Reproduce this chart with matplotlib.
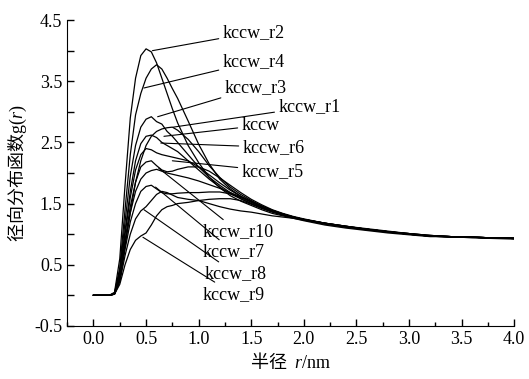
# 径向分布函数 g(r) 曲线

import numpy as np
import matplotlib
matplotlib.use('Agg')
import matplotlib.pyplot as plt
from matplotlib.ticker import MultipleLocator

plt.rcParams['font.family'] = ['Liberation Serif', 'Noto Sans CJK SC']
plt.rcParams['mathtext.fontset'] = 'custom'
plt.rcParams['mathtext.rm'] = 'Liberation Serif'
plt.rcParams['mathtext.it'] = 'Liberation Serif:italic'
plt.rcParams['mathtext.sf'] = 'Noto Sans CJK SC'

# 半径网格 (nm)
r = [0, 0.15, 0.2, 0.25, 0.3, 0.35, 0.4, 0.45, 0.5, 0.55, 0.6, 0.65, 0.7, 0.75,
     0.8, 0.9, 1.0, 1.1, 1.2, 1.3, 1.4, 1.5, 1.6, 1.7, 1.8, 1.9, 2.0, 2.2, 2.4,
     2.6, 2.8, 3.0, 3.2, 3.4, 3.6, 3.8, 4.0]

# 各体系的 g(r)
g_r2 = [0, 0, 0.05, 0.6, 1.8, 2.9, 3.55, 3.92, 4.03, 3.98, 3.8, 3.55, 3.3, 3.05,
        2.82, 2.45, 2.17, 1.93, 1.76, 1.63, 1.54, 1.47, 1.4, 1.34, 1.3, 1.26, 1.22,
        1.15, 1.1, 1.06, 1.02, 0.99, 0.96, 0.96, 0.94, 0.93, 0.92]
g_r4 = [0, 0, 0.04, 0.45, 1.4, 2.3, 2.95, 3.3, 3.55, 3.7, 3.77, 3.7, 3.55, 3.38,
        3.22, 2.85, 2.47, 2.15, 1.9, 1.74, 1.62, 1.53, 1.45, 1.38, 1.33, 1.28, 1.24,
        1.17, 1.12, 1.07, 1.04, 1.0, 0.97, 0.95, 0.95, 0.94, 0.93]
g_r3 = [0, 0, 0.03, 0.4, 1.2, 1.95, 2.45, 2.75, 2.88, 2.92, 2.84, 2.8, 2.68, 2.6,
        2.5, 2.3, 2.1, 1.93, 1.8, 1.68, 1.58, 1.5, 1.43, 1.37, 1.32, 1.28, 1.24,
        1.18, 1.13, 1.09, 1.05, 1.01, 0.98, 0.96, 0.95, 0.94, 0.93]
g_r1 = [0, 0, 0.02, 0.25, 0.8, 1.35, 1.85, 2.2, 2.45, 2.6, 2.68, 2.72, 2.74, 2.75,
        2.7, 2.55, 2.35, 2.12, 1.93, 1.77, 1.65, 1.55, 1.46, 1.39, 1.33, 1.28, 1.24,
        1.18, 1.12, 1.08, 1.04, 1.0, 0.97, 0.95, 0.95, 0.94, 0.94]
g_k = [0, 0, 0.03, 0.35, 1.05, 1.7, 2.2, 2.48, 2.6, 2.62, 2.58, 2.5, 2.45, 2.4,
       2.35, 2.2, 2.05, 1.9, 1.77, 1.66, 1.58, 1.5, 1.43, 1.37, 1.32, 1.28, 1.24,
       1.18, 1.13, 1.08, 1.04, 1.01, 0.98, 0.96, 0.95, 0.94, 0.93]
g_r6 = [0, 0, 0.03, 0.33, 1.0, 1.6, 2.05, 2.3, 2.4, 2.38, 2.33, 2.3, 2.28, 2.26,
        2.24, 2.2, 2.1, 1.97, 1.84, 1.72, 1.62, 1.53, 1.45, 1.39, 1.33, 1.28, 1.24,
        1.18, 1.13, 1.08, 1.04, 1.01, 0.97, 0.96, 0.95, 0.94, 0.93]
g_r5 = [0, 0, 0.03, 0.3, 0.9, 1.45, 1.85, 2.1, 2.18, 2.2, 2.12, 2.05, 2.02, 2.03,
        2.06, 2.1, 2.1, 2.03, 1.92, 1.8, 1.68, 1.57, 1.48, 1.4, 1.34, 1.29, 1.25,
        1.18, 1.13, 1.08, 1.04, 1.01, 0.98, 0.96, 0.95, 0.94, 0.93]
g_r10 = [0, 0, 0.02, 0.28, 0.85, 1.35, 1.7, 1.9, 2.0, 2.04, 2.06, 2.03, 2.0, 1.98,
         1.96, 1.92, 1.87, 1.81, 1.75, 1.68, 1.61, 1.54, 1.46, 1.39, 1.33, 1.28, 1.24,
         1.17, 1.12, 1.08, 1.04, 1.0, 0.97, 0.96, 0.95, 0.94, 0.93]
g_r7 = [0, 0, 0.02, 0.25, 0.75, 1.2, 1.5, 1.7, 1.78, 1.8, 1.74, 1.68, 1.66, 1.66,
        1.67, 1.68, 1.68, 1.69, 1.69, 1.66, 1.6, 1.52, 1.44, 1.38, 1.33, 1.28, 1.24,
        1.17, 1.12, 1.08, 1.04, 1.0, 0.97, 0.96, 0.95, 0.94, 0.93]
g_r8 = [0, 0, 0.02, 0.22, 0.65, 1.0, 1.25, 1.38, 1.45, 1.55, 1.65, 1.7, 1.68, 1.64,
        1.6, 1.57, 1.55, 1.5, 1.45, 1.41, 1.38, 1.36, 1.33, 1.3, 1.28, 1.26, 1.23,
        1.17, 1.12, 1.08, 1.04, 1.0, 0.97, 0.96, 0.95, 0.94, 0.93]
g_r9 = [0, 0, 0.02, 0.18, 0.5, 0.75, 0.9, 0.97, 1.02, 1.15, 1.3, 1.4, 1.45, 1.47,
        1.5, 1.52, 1.55, 1.57, 1.58, 1.58, 1.55, 1.49, 1.42, 1.36, 1.31, 1.27, 1.24,
        1.17, 1.12, 1.08, 1.04, 1.0, 0.97, 0.96, 0.95, 0.94, 0.93]

series = [g_k, g_r1, g_r2, g_r3, g_r4, g_r5, g_r6, g_r7, g_r8, g_r9, g_r10]

# 标签: (文字, 曲线上的点, 文字位置)
labels = [
    ('kccw_r2', (0.56, 4.0), (1.23, 4.3)),
    ('kccw_r4', (0.48, 3.39), (1.23, 3.82)),
    ('kccw_r3', (0.61, 2.92), (1.25, 3.4)),
    ('kccw_r1', (0.76, 2.75), (1.76, 3.08)),
    ('kccw', (0.67, 2.6), (1.41, 2.78)),
    ('kccw_r6', (0.64, 2.49), (1.42, 2.42)),
    ('kccw_r5', (0.75, 2.2), (1.41, 2.03)),
    ('kccw_r10', (0.62, 2.08), (1.04, 1.04)),
    ('kccw_r7', (0.59, 1.77), (1.04, 0.71)),
    ('kccw_r8', (0.48, 1.4), (1.06, 0.35)),
    ('kccw_r9', (0.47, 0.95), (1.04, 0.02)),
]

fig = plt.figure(figsize=(5.29, 3.79), dpi=100)
ax = fig.add_axes([0.127, 0.14, 0.845, 0.807])

for g in series:
    ax.plot(r, g, color='black', linewidth=0.9)

for name, xy, xytext in labels:
    ax.annotate(name, xy=xy, xytext=xytext, fontsize=13, va='center', ha='left',
                arrowprops=dict(arrowstyle='-', color='black', lw=0.8,
                                shrinkA=1, shrinkB=0))

ax.set_xlim(-0.25, 4.0)
ax.set_ylim(-0.5, 4.5)
ax.xaxis.set_major_locator(MultipleLocator(0.5))
ax.xaxis.set_minor_locator(MultipleLocator(0.25))
ax.set_yticks([-0.5, 0.5, 1.5, 2.5, 3.5, 4.5])
ax.set_yticks([0, 1, 2, 3, 4], minor=True)
ax.xaxis.set_major_formatter(plt.FormatStrFormatter('%.1f'))
ax.yaxis.set_major_formatter(plt.FormatStrFormatter('%.1f'))
ax.tick_params(which='both', direction='in', labelsize=13, width=1)
ax.tick_params(which='major', length=5)
ax.tick_params(axis='x', which='minor', length=3)
ax.tick_params(axis='y', which='minor', length=5)
ax.spines['top'].set_visible(False)
ax.spines['right'].set_visible(False)

ax.set_xlabel(r'$\mathsf{半径}\ \ \mathit{r}\mathrm{/nm}$', fontsize=13, labelpad=2)
ax.set_ylabel(r'$\mathsf{径向分布函数}\mathrm{g(}\mathit{r}\mathrm{)}$', fontsize=13, labelpad=4)

plt.savefig('out.png', dpi=100)
